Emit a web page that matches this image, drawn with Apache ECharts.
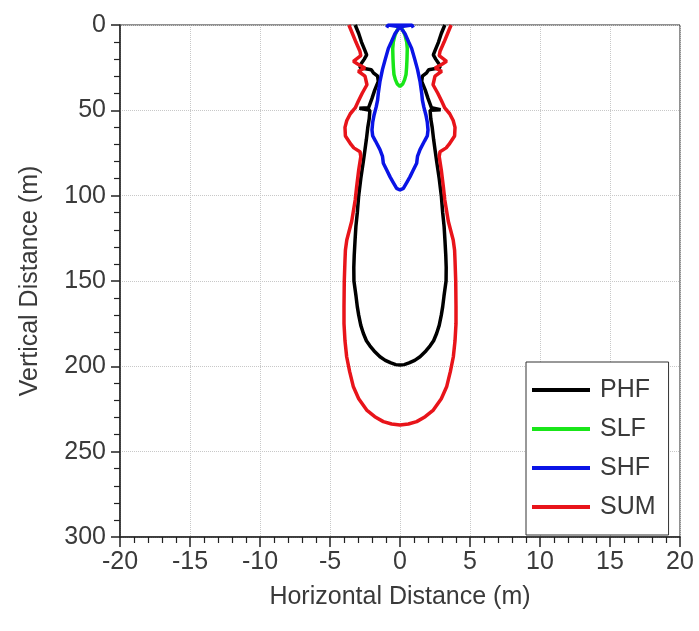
<!DOCTYPE html>
<html>
<head>
<meta charset="utf-8">
<script src="https://cdn.jsdelivr.net/npm/echarts@6/dist/echarts.min.js"></script>
<style>
html,body{margin:0;padding:0;background:#fff;}
#chart{width:699px;height:631px;}
</style>
</head>
<body>
<div id="chart"></div>
<script>
// Series names (legend order)
const seriesNames = ['PHF', 'SLF', 'SHF', 'SUM'];
const seriesColors = ['#000000', '#19e619', '#0a14e6', '#e8141a'];

// Curves as [horizontal distance (m), vertical distance (m)]
const phfPoints = [
  [-3.2,0],[-2.95,5],[-2.75,10],[-2.5,15],[-2.38,17.5],[-2.55,20],[-2.8,23],[-2.86,25],[-2.05,26.2],[-1.9,28],[-1.6,30],[-1.55,33],[-1.8,38],[-2.0,43],[-2.25,48.5],[-2.9,48.8],[-2.9,49.6],[-2.15,50],[-2.2,55],[-2.3,60],[-2.4,67],[-2.5,73],[-2.62,80],[-2.8,90],[-2.95,100],[-3.05,110],[-3.15,118],[-3.21,126],[-3.27,135],[-3.3,142],[-3.29,150],[-3.14,159],[-3.05,165],[-2.95,170],[-2.8,176],[-2.62,180.6],[-2.4,185],[-2.15,188],[-1.85,191],[-1.43,194.4],[-1.05,196.5],[-0.65,198],[-0.3,199],[0,199.2],
  [0.3,199],[0.65,198],[1.05,196.5],[1.43,194.4],[1.85,191],[2.15,188],[2.4,185],[2.62,180.6],[2.8,176],[2.95,170],[3.05,165],[3.14,159],[3.29,150],[3.3,142],[3.27,135],[3.21,126],[3.15,118],[3.05,110],[2.95,100],[2.8,90],[2.62,80],[2.5,73],[2.4,67],[2.3,60],[2.2,55],[2.15,50],[2.9,49.6],[2.9,48.8],[2.25,48.5],[2.0,43],[1.8,38],[1.55,33],[1.6,30],[1.9,28],[2.05,26.2],[2.86,25],[2.8,23],[2.55,20],[2.38,17.5],[2.5,15],[2.75,10],[2.95,5],[3.2,0]
];
const slfPoints = [
  [0,0.5],[-0.2,3],[-0.36,6],[-0.48,10],[-0.52,14],[-0.5,20],[-0.47,25],[-0.43,29],[-0.33,32],[-0.2,34.5],[0,36],
  [0.2,34.5],[0.33,32],[0.43,29],[0.47,25],[0.5,20],[0.52,14],[0.48,10],[0.36,6],[0.2,3],[0,0.5]
];
const shfPoints = [
  [0,1],[-0.35,5],[-0.62,10],[-0.83,13.7],[-1.05,20],[-1.25,26],[-1.43,33],[-1.55,40],[-1.6,44],[-1.7,48],[-1.85,52.7],[-1.95,57],[-2.0,61.5],[-1.95,65],[-1.75,68],[-1.43,73],[-1.25,77],[-1.19,81],[-0.95,85],[-0.71,89],[-0.5,92],[-0.24,95.7],[0,96.7],
  [0.24,95.7],[0.5,92],[0.71,89],[0.95,85],[1.19,81],[1.25,77],[1.43,73],[1.75,68],[1.95,65],[2.0,61.5],[1.95,57],[1.85,52.7],[1.7,48],[1.6,44],[1.55,40],[1.43,33],[1.25,26],[1.05,20],[0.83,13.7],[0.62,10],[0.35,5],[0,1],
  [0.85,0],[0.95,1.5],[0.85,0],[-0.85,0],[-0.95,1.5],[-0.85,0],[0,1]
];
const sumPoints = [
  [-3.65,0],[-3.4,5],[-3.15,10],[-2.86,15.4],[-2.8,18],[-3.33,21.3],[-3.0,23],[-2.5,25.2],[-2.98,27.1],[-2.5,30],[-2.36,35],[-2.7,40],[-2.98,44.7],[-3.2,48.6],[-3.55,52],[-3.8,56],[-3.93,60],[-3.9,65],[-3.5,70],[-3.3,72],[-2.86,74.2],[-2.8,77],[-2.95,85],[-3.1,95],[-3.2,102.5],[-3.45,115],[-3.8,126],[-3.9,132],[-3.93,138],[-3.98,150],[-4.0,165],[-4.0,175],[-3.93,185],[-3.81,194.4],[-3.6,203],[-3.33,212],[-2.95,219],[-2.38,225.6],[-1.8,229.5],[-1.19,232.4],[-0.6,233.8],[0,234.4],
  [0.6,233.8],[1.19,232.4],[1.8,229.5],[2.38,225.6],[2.95,219],[3.33,212],[3.6,203],[3.81,194.4],[3.93,185],[4.0,175],[4.0,165],[3.98,150],[3.93,138],[3.9,132],[3.8,126],[3.45,115],[3.2,102.5],[3.1,95],[2.95,85],[2.8,77],[2.86,74.2],[3.3,72],[3.5,70],[3.9,65],[3.93,60],[3.8,56],[3.55,52],[3.2,48.6],[2.98,44.7],[2.7,40],[2.36,35],[2.5,30],[2.98,27.1],[2.5,25.2],[3.0,23],[3.33,21.3],[2.8,18],[2.86,15.4],[3.15,10],[3.4,5],[3.65,0]
];
const seriesPoints = [phfPoints, slfPoints, shfPoints, sumPoints];

// Axis settings
const xMin = -20, xMax = 20, xStep = 5;
const yMin = 0, yMax = 300, yStep = 50;
const xTitle = 'Horizontal Distance (m)';
const yTitle = 'Vertical Distance (m)';

const FONT = "'Liberation Sans', Arial, sans-serif";
const TXT = '#3a3a3a';

const chart = echarts.init(document.getElementById('chart'), null, {renderer: 'canvas'});
chart.setOption({
  animation: false,
  backgroundColor: '#ffffff',
  grid: {left: 120, right: 19, top: 25, bottom: 94, show: true, borderColor: '#222', borderWidth: 1, backgroundColor: 'transparent'},
  legend: {
    orient: 'vertical',
    left: 526, top: 362,
    data: seriesNames,
    icon: 'rect',
    itemWidth: 58, itemHeight: 4,
    itemGap: 13,
    padding: [15, 13, 15, 6],
    borderColor: '#333', borderWidth: 1,
    backgroundColor: '#fff',
    textStyle: {fontFamily: FONT, fontSize: 25, color: TXT, lineHeight: 26, padding: [0,0,0,5]}
  },
  xAxis: {
    type: 'value', min: xMin, max: xMax, interval: xStep,
    name: xTitle, nameLocation: 'middle', nameGap: 48,
    nameTextStyle: {fontFamily: FONT, fontSize: 25, color: TXT},
    axisLine: {onZero: false, lineStyle: {color: '#222', width: 1.5}},
    axisTick: {show: true, length: 10, lineStyle: {color: '#222', width: 1.5}},
    minorTick: {show: true, splitNumber: 5, length: 6, lineStyle: {color: '#222', width: 1.2}},
    axisLabel: {fontFamily: FONT, fontSize: 25, color: TXT, margin: 13},
    splitLine: {show: true, lineStyle: {color: '#c8c8c8', type: 'dotted', width: 1}}
  },
  yAxis: {
    type: 'value', min: yMin, max: yMax, interval: yStep, inverse: true,
    name: yTitle, nameLocation: 'middle', nameGap: 77,
    nameTextStyle: {fontFamily: FONT, fontSize: 25, color: TXT},
    axisLine: {onZero: false, lineStyle: {color: '#222', width: 1.5}},
    axisTick: {show: true, length: 9, lineStyle: {color: '#222', width: 1.5}},
    minorTick: {show: true, splitNumber: 5, length: 6, lineStyle: {color: '#222', width: 1.2}},
    axisLabel: {fontFamily: FONT, fontSize: 25, color: TXT, margin: 14},
    splitLine: {show: true, lineStyle: {color: '#c8c8c8', type: 'dotted', width: 1}}
  },
  series: seriesNames.map((n, i) => ({
    name: n, type: 'line', data: seriesPoints[i],
    showSymbol: false, symbol: 'none', smooth: false, clip: true,
    color: seriesColors[i],
    lineStyle: {color: seriesColors[i], width: 3.5}
  }))
});
</script>
</body>
</html>
